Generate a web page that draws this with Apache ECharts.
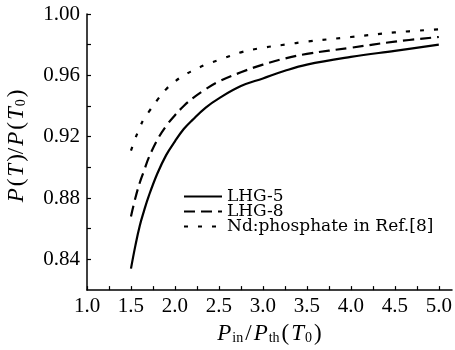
<!DOCTYPE html>
<html>
<head>
<meta charset="utf-8">
<script src="https://cdn.jsdelivr.net/npm/echarts@6/dist/echarts.min.js"></script>
<style>
  html, body { margin: 0; padding: 0; background: #fff; }
  #chart { width: 455px; height: 350px; }
</style>
</head>
<body>
<div id="chart"></div>
<script>
// P_in / P_th(T0)
var ratio = [1.5, 1.55, 1.6, 1.65, 1.7, 1.8, 1.9, 2.0, 2.1, 2.2, 2.35, 2.5, 2.75, 3.0, 3.25, 3.5, 4.0, 4.5, 5.0];
var lhg5 = [0.834, 0.849, 0.862, 0.872, 0.881, 0.896, 0.908, 0.917, 0.925, 0.931, 0.939, 0.945, 0.953, 0.958, 0.963, 0.967, 0.972, 0.976, 0.980];
var lhg8 = [0.868, 0.880, 0.890, 0.898, 0.906, 0.918, 0.927, 0.934, 0.940, 0.945, 0.951, 0.956, 0.962, 0.967, 0.971, 0.974, 0.978, 0.982, 0.985];
var ndPhos = [0.911, 0.919, 0.926, 0.932, 0.936, 0.944, 0.951, 0.956, 0.960, 0.963, 0.967, 0.970, 0.975, 0.978, 0.980, 0.982, 0.985, 0.988, 0.990];
var names = ['LHG-5', 'LHG-8', 'Nd:phosphate in Ref.[8]'];

var xLabels = [1.0, 1.5, 2.0, 2.5, 3.0, 3.5, 4.0, 4.5, 5.0];
var xTicks = [1.0, 1.25, 1.5, 1.75, 2.0, 2.25, 2.5, 2.75, 3.0, 3.25, 3.5, 3.75, 4.0, 4.25, 4.5, 4.75, 5.0];
var yLabels = [0.84, 0.88, 0.92, 0.96, 1.00];
var yTicks = [0.84, 0.86, 0.88, 0.90, 0.92, 0.94, 0.96, 0.98, 1.00];

function pairs(ys) {
    return ratio.map(function (x, i) { return [x, ys[i]]; });
}

var font = 'Liberation Serif';
var rich = {
    i: { fontFamily: font, fontStyle: 'italic', fontSize: 23, color: '#000', padding: [0, 1, 0, 1] },
    n: { fontFamily: font, fontSize: 23, color: '#000', padding: [0, 1, 0, 1] },
    s: { fontFamily: font, fontSize: 14, color: '#000', verticalAlign: 'bottom', padding: [0, 1, 0, 0] }
};

var myChart = echarts.init(document.getElementById('chart'));
var option = {
    animation: false,
    backgroundColor: '#fff',
    grid: { left: 87, right: 3, top: 14, bottom: 57 },
    legend: {
        orient: 'vertical',
        left: 183,
        top: 188,
        padding: 0,
        itemWidth: 38,
        itemHeight: 14,
        itemGap: -2,
        data: names,
        itemStyle: { opacity: 0 },
        textStyle: { fontFamily: 'DejaVu Serif', fontSize: 17, color: '#000' }
    },
    xAxis: {
        type: 'value',
        min: 1.0,
        max: 5.15,
        name: '{i|P}{s|in}{n|/}{i|P}{s|th}{n|(}{i|T}{s|0}{n|)}',
        nameLocation: 'middle',
        nameGap: 24,
        nameTextStyle: { rich: rich },
        axisLine: { lineStyle: { color: '#000', width: 1.5 } },
        axisTick: { inside: true, length: 4, customValues: xTicks, lineStyle: { color: '#000', width: 1.2 } },
        axisLabel: {
            customValues: xLabels,
            margin: 6,
            color: '#000',
            fontFamily: font,
            fontSize: 21,
            formatter: function (v) { return v.toFixed(1); }
        },
        splitLine: { show: false }
    },
    yAxis: {
        type: 'value',
        min: 0.82,
        max: 1.0,
        axisLine: { show: true, lineStyle: { color: '#000', width: 1.5 } },
        axisTick: { show: true, inside: true, length: 4, customValues: yTicks, lineStyle: { color: '#000', width: 1.2 } },
        axisLabel: {
            customValues: yLabels,
            margin: 7,
            color: '#000',
            fontFamily: font,
            fontSize: 21,
            formatter: function (v) { return v.toFixed(2); }
        },
        splitLine: { show: false }
    },
    graphic: [{
        type: 'text',
        x: 17,
        y: 146,
        rotation: Math.PI / 2,
        style: {
            text: '{i|P}{n|(}{i|T}{n|)/}{i|P}{n|(}{i|T}{s|0}{n|)}',
            align: 'center',
            verticalAlign: 'middle',
            rich: rich
        }
    }],
    series: [{
        name: names[0],
        type: 'line',
        smooth: 0.4,
        symbol: 'none',
        data: pairs(lhg5),
        lineStyle: { color: '#000', width: 2.2, type: 'solid' },
        itemStyle: { color: '#000' }
    }, {
        name: names[1],
        type: 'line',
        smooth: 0.4,
        symbol: 'none',
        data: pairs(lhg8),
        lineStyle: { color: '#000', width: 2.2, type: [11, 6] },
        itemStyle: { color: '#000' }
    }, {
        name: names[2],
        type: 'line',
        smooth: 0.4,
        symbol: 'none',
        data: pairs(ndPhos),
        lineStyle: { color: '#000', width: 2.2, type: [4, 10] },
        itemStyle: { color: '#000' }
    }]
};
myChart.setOption(option);
</script>
</body>
</html>
